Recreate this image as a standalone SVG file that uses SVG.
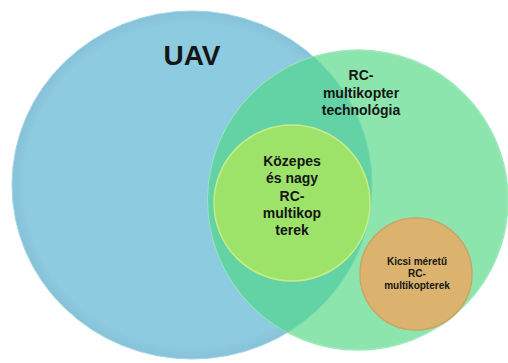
<svg xmlns="http://www.w3.org/2000/svg" width="508" height="363" viewBox="0 0 508 363">
<defs>
<style>
text{font-family:"Liberation Sans",Arial,sans-serif;font-weight:bold;fill:#151515;text-anchor:middle}
.t14{font-size:14px}
.t10{font-size:10px}
</style>
<clipPath id="greenClip"><circle cx="358" cy="200" r="150"/></clipPath>
<radialGradient id="blueG" cx="0.5" cy="0.5" r="0.5">
<stop offset="0.93" stop-color="#8DCBE0"/>
<stop offset="1" stop-color="#86C1D8"/>
</radialGradient>
</defs>
<rect width="508" height="363" fill="#ffffff"/>
<g id="uav">
<ellipse cx="192" cy="185" rx="180" ry="174" fill="url(#blueG)" stroke="#9fd6e6" stroke-width="1"/>
</g>
<g id="rc-tech">
<circle cx="358" cy="200" r="150" fill="#8DE5AE" stroke="#9ee9bb" stroke-width="1.5"/>
<ellipse cx="192" cy="185" rx="180" ry="174" fill="#63D3A6" clip-path="url(#greenClip)"/>
<ellipse cx="192" cy="185" rx="180" ry="174" fill="none" stroke="#72d8ab" stroke-width="1" clip-path="url(#greenClip)"/>
</g>
<g id="kozepes">
<circle cx="292" cy="203" r="78" fill="#9DE36A" stroke="#c8ec8a" stroke-width="1.5"/>
</g>
<g id="kicsi">
<circle cx="416" cy="274" r="56" fill="#DCB36E" stroke="#c8a665" stroke-width="1.5"/>
</g>
<g id="labels">
<text x="192" y="65" style="font-size:28px">UAV</text>
<text class="t14" x="361" y="80">RC-</text>
<text class="t14" x="361" y="98">multikopter</text>
<text class="t14" x="361" y="115">technológia</text>
<text class="t14" x="292" y="166">Közepes</text>
<text class="t14" x="292" y="183">és nagy</text>
<text class="t14" x="292" y="201">RC-</text>
<text class="t14" x="292" y="218">multikop</text>
<text class="t14" x="292" y="235">terek</text>
<text class="t10" x="417" y="265">Kicsi méretű</text>
<text class="t10" x="417" y="277">RC-</text>
<text class="t10" x="417" y="289">multikopterek</text>
</g>
</svg>
